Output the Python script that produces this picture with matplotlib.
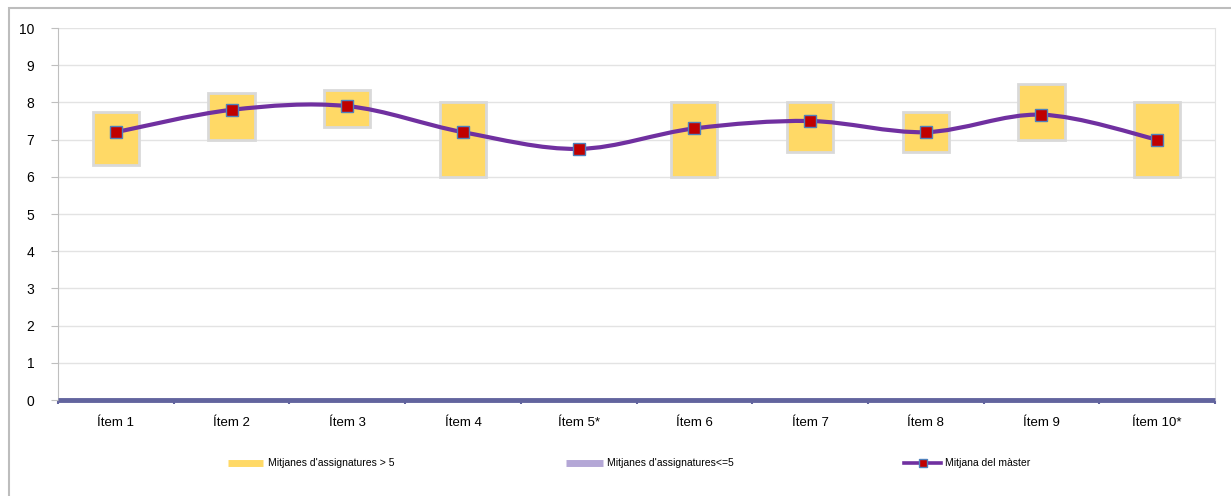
import matplotlib
matplotlib.use('Agg')
import matplotlib.pyplot as plt
from matplotlib.path import Path
from matplotlib.patches import PathPatch, Rectangle
from matplotlib.lines import Line2D

plt.rcParams['font.family'] = ['Liberation Sans', 'DejaVu Sans']

# data
items = ['Ítem 1', 'Ítem 2', 'Ítem 3', 'Ítem 4', 'Ítem 5*',
         'Ítem 6', 'Ítem 7', 'Ítem 8', 'Ítem 9', 'Ítem 10*']
box_low = [6.33, 7.0, 7.33, 6.0, None, 6.0, 6.67, 6.67, 7.0, 6.0]  # bottom of yellow box
box_high = [7.75, 8.25, 8.33, 8.0, None, 8.0, 8.0, 7.75, 8.5, 8.0]  # top of yellow box
master_mean = [7.2, 7.8, 7.9, 7.2, 6.75, 7.3, 7.5, 7.2, 7.67, 7.0]
low_series = [0] * 10  # series "<=5", all zero

W, H = 1231, 496
fig = plt.figure(figsize=(W / 100, H / 100), dpi=100)
ax = fig.add_axes([58 / W, 1 - 400 / H, (1215 - 58) / W, (400 - 28) / H])

x = list(range(len(items)))

# yellow floating boxes
for xi, lo, hi in zip(x, box_low, box_high):
    if lo is None:
        continue
    ax.bar(xi, hi - lo, bottom=lo, width=0.4, color='#FFD966',
           edgecolor='#D9D9D9', linewidth=2, zorder=3)

# smoothed line like Excel (Catmull-Rom bezier)
pts = list(zip(x, master_mean))
verts = [pts[0]]
codes = [Path.MOVETO]
for i in range(len(pts) - 1):
    p0 = pts[i - 1] if i > 0 else pts[i]
    p1 = pts[i]
    p2 = pts[i + 1]
    p3 = pts[i + 2] if i + 2 < len(pts) else pts[i + 1]
    c1 = (p1[0] + (p2[0] - p0[0]) / 6, p1[1] + (p2[1] - p0[1]) / 6)
    c2 = (p2[0] - (p3[0] - p1[0]) / 6, p2[1] - (p3[1] - p1[1]) / 6)
    verts += [c1, c2, p2]
    codes += [Path.CURVE4] * 3
ax.add_patch(PathPatch(Path(verts, codes), facecolor='none', edgecolor='#7030A0',
                       linewidth=3, zorder=4))
ax.plot(x, master_mean, linestyle='none', marker='s', markersize=8.5,
        markerfacecolor='#C00000', markeredgecolor='#4F81BD', markeredgewidth=1, zorder=5)

# series <=5 sits on the zero line
ax.plot([-0.5, 9.5], [low_series[0], low_series[-1]], color='#62649E', linewidth=3.5,
        zorder=6, solid_capstyle='butt', clip_on=False)

ax.set_xlim(-0.5, 9.5)
ax.set_ylim(0, 10)
ax.set_yticks(range(0, 11))
ax.set_xticks(x)
ax.set_xticklabels(items)
ax.tick_params(axis='x', length=0, pad=12, labelsize=9.5)
ax.tick_params(axis='y', length=5, color='#BFBFBF', pad=12, labelsize=10)
ax.set_xticks([i - 0.5 for i in range(11)], minor=True)
ax.tick_params(axis='x', which='minor', length=3, color='#62649E', width=1.5)
ax.grid(axis='y', color='#E3E3E3', linewidth=1, zorder=0)
ax.set_axisbelow(True)
for s in ['top', 'bottom']:
    ax.spines[s].set_visible(False)
ax.spines['left'].set_color('#BFBFBF')
ax.spines['right'].set_color('#E3E3E3')

# outer chart border
fig.patches.append(Rectangle((9 / W, -0.05), 1.1, 1 - 8 / H + 0.05, transform=fig.transFigure,
                             fill=False, edgecolor='#BDBDBD', linewidth=1.5))

# legend drawn by hand
ly = 1 - 463 / H
fig.add_artist(Line2D([228 / W, 263 / W], [ly, ly], color='#FFD966', linewidth=5,
                      solid_capstyle='butt', transform=fig.transFigure))
fig.text(268 / W, ly, "Mitjanes d'assignatures > 5", fontsize=7.5, va='center')
fig.add_artist(Line2D([566 / W, 603 / W], [ly, ly], color='#B4A7D6', linewidth=5,
                      solid_capstyle='butt', transform=fig.transFigure))
fig.text(607 / W, ly, "Mitjanes d'assignatures<=5", fontsize=7.5, va='center')
fig.add_artist(Line2D([904 / W, 941 / W], [ly, ly], color='#7030A0', linewidth=2.6,
                      transform=fig.transFigure))
fig.add_artist(Line2D([922.5 / W], [ly], marker='s', markersize=6, markerfacecolor='#C00000',
                      markeredgecolor='#4F81BD', transform=fig.transFigure))
fig.text(945 / W, ly, 'Mitjana del màster', fontsize=7.5, va='center')

fig.savefig('out.png', dpi=100)
